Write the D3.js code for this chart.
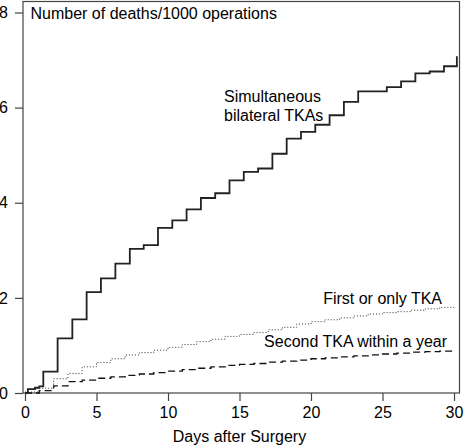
<!DOCTYPE html>
<html><head><meta charset="utf-8">
<script src="https://cdn.jsdelivr.net/npm/d3@7"></script>
<style>body{margin:0;background:#fff}svg{display:block}text{font-family:"Liberation Sans",Arial,Helvetica,sans-serif;fill:#000}</style>
</head><body>
<script>
// Simultaneous bilateral TKAs (step after each day)
const simDays = [0,0.2,0.7,1.0,1.28,2.28,3.31,4.31,5.31,6.32,7.33,8.3,9.3,10.3,11.3,12.3,13.3,14.3,15.3,16.3,17.3,18.3,19.3,20.3,21.3,22.3,23.3,25.3,26.3,27.3,28.3,29.3,30.2];
const simVals = [0,0.08,0.11,0.14,0.45,1.15,1.55,2.12,2.41,2.72,3.03,3.11,3.47,3.63,3.86,4.10,4.20,4.47,4.65,4.72,5.03,5.35,5.49,5.64,5.84,6.12,6.34,6.43,6.55,6.72,6.76,6.87,7.08];
// First or only TKA
const firstDays = [0,1,2,3,4,5,6,7,8,9,10,11,12,13,14,15,16,17,18,19,20,21,22,23,24,25,26,27,28,29,30];
const firstVals = [0.02,0.1,0.3,0.41,0.55,0.64,0.72,0.80,0.85,0.90,0.96,1.02,1.08,1.13,1.19,1.23,1.27,1.33,1.38,1.45,1.50,1.54,1.58,1.62,1.66,1.69,1.71,1.74,1.77,1.80,1.84];
// Second TKA within a year
const secondDays = [0,1,2,3,4,5,6,7,8,9,10,11,12,13,14,15,16,17,18,19,20,21,22,23,24,25,26,27,28,29,30];
const secondVals = [0,0.05,0.15,0.24,0.27,0.31,0.34,0.37,0.40,0.43,0.46,0.49,0.52,0.55,0.58,0.60,0.62,0.65,0.67,0.69,0.72,0.74,0.76,0.78,0.80,0.82,0.84,0.86,0.87,0.88,0.90];
const xTicks = [0,5,10,15,20,25,30];
const yTicks = [0,2,4,6,8];
const title = "Number of deaths/1000 operations";
const xLabel = "Days after Surgery";

const W = 466, H = 446;
const svg = d3.select("body").append("svg").attr("width", W).attr("height", H);
const x = d3.scaleLinear().domain([0,30]).range([25,454]);
const y = d3.scaleLinear().domain([0,8]).range([393,12.5]);

// frame
svg.append("rect").attr("x",23).attr("y",1.5).attr("width",459.5-23).attr("height",393-1.5)
  .attr("fill","none").attr("stroke","#444").attr("stroke-width",1.2);

// y axis
const ya = svg.append("g").attr("transform","translate(23,0)")
  .call(d3.axisLeft(y).tickValues(yTicks).tickSize(8).tickPadding(7).tickFormat(d3.format("d")));
ya.select(".domain").remove();
ya.selectAll("line").attr("stroke","#444").attr("stroke-width",1.2);
ya.selectAll("text").style("font-size","16px").attr("fill","#000");

// x axis
const xa = svg.append("g").attr("transform","translate(0,393)")
  .call(d3.axisBottom(x).tickValues(xTicks).tickSize(8).tickPadding(6).tickFormat(d3.format("d")));
xa.select(".domain").remove();
xa.selectAll("line").attr("stroke","#444").attr("stroke-width",1.2);
xa.selectAll("text").style("font-size","16px").attr("fill","#000");

const line = d3.line().x(d=>x(d[0])).y(d=>y(d[1])).curve(d3.curveStepAfter);
const zip = (a,b)=>a.map((v,i)=>[v,b[i]]);

svg.append("path").datum(zip(firstDays,firstVals)).attr("d",line)
  .attr("fill","none").attr("stroke","#333").attr("stroke-width",1).attr("stroke-dasharray","1,2");
svg.append("path").datum(zip(secondDays,secondVals)).attr("d",line)
  .attr("fill","none").attr("stroke","#111").attr("stroke-width",1.3).attr("stroke-dasharray","7,4");
svg.append("path").datum(zip(simDays,simVals)).attr("d",line)
  .attr("fill","none").attr("stroke","#222").attr("stroke-width",1.8);

// texts
svg.append("text").attr("x",30.5).attr("y",18.5).style("font-size","16px").text(title);
svg.append("text").attr("x",239.5).attr("y",441.5).attr("text-anchor","middle").style("font-size","16px").text(xLabel);
svg.append("text").attr("x",224).attr("y",102).style("font-size","16px").text("Simultaneous");
svg.append("text").attr("x",224).attr("y",120.5).style("font-size","16px").text("bilateral TKAs");
svg.append("text").attr("x",442).attr("y",304).attr("text-anchor","end").style("font-size","16px").text("First or only TKA");
svg.append("text").attr("x",447).attr("y",346.5).attr("text-anchor","end").style("font-size","16px").text("Second TKA within a year");
</script>
</body></html>
